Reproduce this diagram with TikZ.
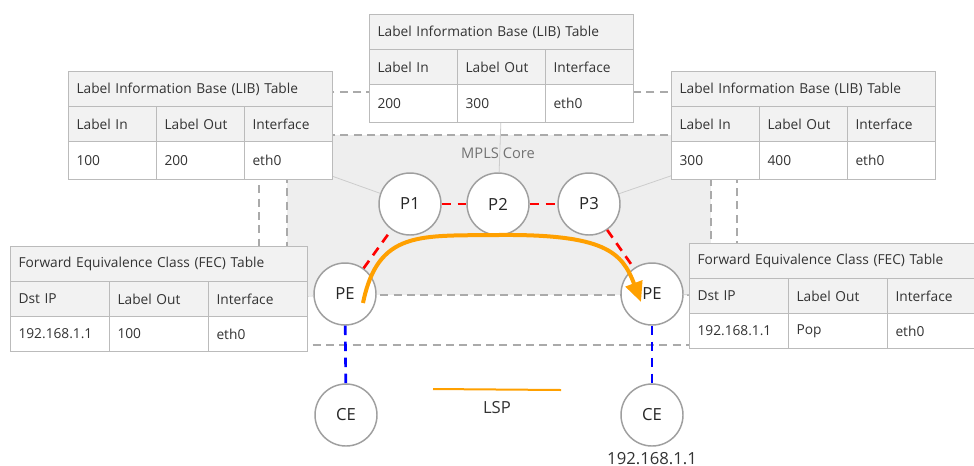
\documentclass[tikz,border=0pt]{standalone}
\usepackage{fontspec}
\setmainfont{Open Sans}
\usetikzlibrary{arrows.meta}
\definecolor{tabline}{HTML}{BBBBBB}
\definecolor{headfill}{HTML}{F2F2F2}
\definecolor{corefill}{HTML}{EEEEEE}
\definecolor{dashgray}{HTML}{AAAAAA}
\definecolor{txt}{HTML}{333333}
\definecolor{lspcolor}{HTML}{FFA000}
\begin{document}
\begin{tikzpicture}[x=0.75pt, y=-0.75pt,
  cell/.style={draw=tabline, fill=white, anchor=north west, align=left, inner xsep=6pt, inner ysep=0pt, text=txt, font=\fontsize{10.3}{12}\selectfont, line width=0.8pt},
  headcell/.style={cell, fill=headfill},
  router/.style={circle, draw=gray!75, fill=white, line width=1.1pt, minimum size=46.5pt, inner sep=0pt, text=black!85, font=\fontsize{12.5}{14}\selectfont},
  boundary/.style={draw=dashgray, line width=1.1pt, dash pattern=on 6pt off 4pt},
  attach/.style={draw=black!20, line width=0.6pt},
  corelink/.style={draw=red, line width=2pt, dash pattern=on 7pt off 5pt},
  edgelink/.style={draw=blue, line width=2pt, dash pattern=on 7pt off 5pt},
  lsp/.style={draw=lspcolor, line width=3pt, -{Triangle[length=15pt, width=13pt]}},
  bigtext/.style={text=black!80, font=\fontsize{12.5}{14}\selectfont}]
\useasboundingbox (0,0) rectangle (974,465);
\clip (0,0) rectangle (974,465);
\fill[white] (0,0) rectangle (974,465);

\draw[boundary] (259,92) rectangle (737,345);
\draw[boundary, fill=corefill] (287,135) rectangle (711,295);
\node[text=black!55, font=\fontsize{11}{13}\selectfont] (core label) at (498,153) {MPLS Core};

\foreach \tbl/\x/\y/\lin/\lout in {lib1/68/71/100/200, lib2/369/14/200/300, lib3/671/71/300/400} {
  \node[headcell, text width=186pt, minimum height=26.25pt] (\tbl) at (\x,\y) {Label Information Base (LIB) Table};
  \foreach \h [count=\i] in {Label In, Label Out, Interface}
    \node[headcell, text width=54pt, minimum height=26.25pt] (\tbl-h\i) at ({\x+88*(\i-1)}, \y+35) {\h};
  \foreach \d [count=\i] in {\lin, \lout, eth0}
    \node[cell, text width=54pt, minimum height=28.5pt] (\tbl-d\i) at ({\x+88*(\i-1)}, \y+70) {\d};
}

\foreach \tbl/\x/\y/\lout in {fec1/10/246/100, fec2/689/243/Pop} {
  \node[headcell, text width=210.75pt, minimum height=26.25pt] (\tbl) at (\x,\y) {Forward Equivalence Class (FEC) Table};
  \foreach \h [count=\i] in {Dst IP, Label Out, Interface}
    \node[headcell, text width=62.25pt, minimum height=26.25pt] (\tbl-h\i) at ({\x+99*(\i-1)}, \y+35) {\h};
  \foreach \d [count=\i] in {192.168.1.1, \lout, eth0}
    \node[cell, text width=62.25pt, minimum height=26.25pt] (\tbl-d\i) at ({\x+99*(\i-1)}, \y+70) {\d};
}

\foreach \n/\x in {P1/410, P2/498, P3/589}
  \node[router] (\n) at (\x,204) {\n};
\node[router] (PE1) at (345,294) {PE};
\node[router] (PE2) at (652,294) {PE};
\node[router] (CE1) at (346,415) {CE};
\node[router] (CE2) at (652,415) {CE};
\node[bigtext] (ce ip) at (652,459) {192.168.1.1};

\draw[attach] (lib1-d3) -- (P1);
\draw[attach] (lib2-d2) -- (P2);
\draw[attach] (lib3-d1) -- (P3);
\draw[attach] (fec1-h3) -- (PE1);
\draw[attach] (PE2) -- (fec2-h1);

\draw[corelink] (PE1) -- (P1);
\draw[corelink] (P1) -- (P2);
\draw[corelink] (P2) -- (P3);
\draw[corelink] (P3) -- (PE2);
\draw[edgelink] (PE1) -- (CE1);
\draw[edgelink] (PE2) -- (CE2);

\coordinate (lsp from) at (363,303);
\coordinate (lsp to) at (641,302);
\draw[lsp] (lsp from) .. controls (378,230) and (420,236) .. (498,235) .. controls (605,234) and (622,252) .. (lsp to);

\coordinate (legend start) at (433,389);
\coordinate (legend end) at (561,390);
\draw[draw=lspcolor, line width=1.5pt] (legend start) -- (legend end);
\node[bigtext] (legend label) at (497,408) {LSP};
\end{tikzpicture}
\end{document}
